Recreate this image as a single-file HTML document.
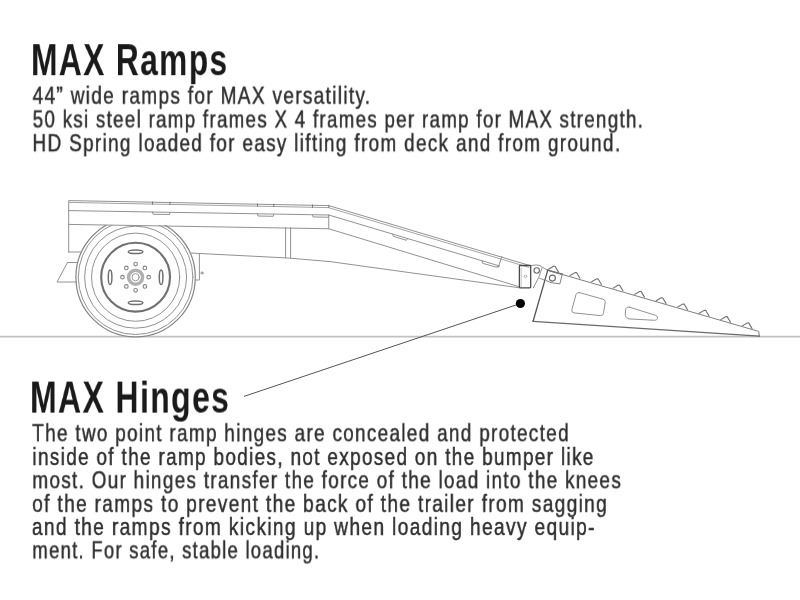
<!DOCTYPE html>
<html lang="en"><head><meta charset="utf-8"><title>MAX Ramps</title>
<style>
html,body{margin:0;padding:0;background:#fff;}
body{width:800px;height:600px;position:relative;overflow:hidden;font-family:"Liberation Sans",sans-serif;}
.t{position:absolute;white-space:nowrap;transform-origin:0 0;line-height:1;margin:0;padding:0;will-change:transform;}
.h{font-size:44.8px;font-weight:700;color:#1a1a1a;letter-spacing:0.045em;}
.b{font-size:24.8px;font-weight:400;color:#303030;letter-spacing:0.07em;-webkit-text-stroke:0.5px #303030;}
</style></head><body>
<svg width="800" height="600" viewBox="0 0 800 600" style="position:absolute;left:0;top:0">
<defs><clipPath id="wc"><rect x="60" y="224.9" width="150" height="130"/></clipPath></defs>
<line x1="0" y1="336.6" x2="800" y2="336.6" stroke="#c2c2c2" stroke-width="1.9"/>
<g fill="none" stroke="#929292" stroke-width="1" stroke-linecap="round" stroke-linejoin="round">
<g clip-path="url(#wc)">
<circle cx="135.6" cy="277.2" r="59.7" fill="#fff" stroke="#858585" stroke-width="1.2"/>
<circle cx="135.6" cy="277.2" r="57.3"/>
<circle cx="135.6" cy="277.2" r="51.0"/>
<circle cx="135.6" cy="277.2" r="44.1"/>
</g>
<circle cx="135.6" cy="277.2" r="34.4" stroke="#707070" stroke-width="2.1"/>
<circle cx="135.6" cy="277.2" r="7" stroke="#b0b0b0" stroke-width="3.4"/>
<circle cx="135.6" cy="277.2" r="3.6" stroke="#999"/>
<circle cx="148.70" cy="277.20" r="1.8" stroke="#858585" stroke-width="1.1"/>
<circle cx="144.86" cy="286.46" r="1.8" stroke="#858585" stroke-width="1.1"/>
<circle cx="135.60" cy="290.30" r="1.8" stroke="#858585" stroke-width="1.1"/>
<circle cx="126.34" cy="286.46" r="1.8" stroke="#858585" stroke-width="1.1"/>
<circle cx="122.50" cy="277.20" r="1.8" stroke="#858585" stroke-width="1.1"/>
<circle cx="126.34" cy="267.94" r="1.8" stroke="#858585" stroke-width="1.1"/>
<circle cx="135.60" cy="264.10" r="1.8" stroke="#858585" stroke-width="1.1"/>
<circle cx="144.86" cy="267.94" r="1.8" stroke="#858585" stroke-width="1.1"/>
<ellipse cx="135.6" cy="251.7" rx="7.3" ry="1.8" stroke="#707070" stroke-width="1.5" transform="rotate(0 135.6 277.2)"/>
<ellipse cx="135.6" cy="251.7" rx="7.3" ry="1.8" stroke="#707070" stroke-width="1.5" transform="rotate(90 135.6 277.2)"/>
<ellipse cx="135.6" cy="251.7" rx="7.3" ry="1.8" stroke="#707070" stroke-width="1.5" transform="rotate(180 135.6 277.2)"/>
<ellipse cx="135.6" cy="251.7" rx="7.3" ry="1.8" stroke="#707070" stroke-width="1.5" transform="rotate(270 135.6 277.2)"/>
<path d="M68.7 252 L68.7 200.6 L328.75 205.6 L530 265.6"/>
<path d="M68.7 202.4 L328.4 207.6 L529 267.4" stroke="#a4a4a4"/>
<path d="M68.7 210.6 L328.75 215 L499.6 266"/>
<path d="M68.7 224.4 L328.75 228.75 L520 287"/>
<path d="M328.75 215 L328.75 228.75"/>
<path d="M68.7 252 L81.5 252"/>
<path d="M67.5 262.5 L77.5 262.5 M76.5 282 L57 282 L67.5 262.5"/>
<path d="M190 253 L288 258 L330 261.6 L519.4 287.8"/>
<path d="M285.6 227.7 L285.6 257.9 M290.6 227.8 L290.6 258.1"/>
<path d="M199.4 253.5 L199.4 280 L195 280"/>
<circle cx="202" cy="273" r="1.1"/>
<path d="M152.5 201.91 L152.5 204.21 M170 202.21 L170 204.51" stroke="#777"/>
<path d="M152.5 212.02 L153.0 214.22 L169.5 214.52 L170 212.32"/>
<path d="M257.5 203.92 L257.5 206.22 M273.75 204.22 L273.75 206.52" stroke="#777"/>
<path d="M257.5 213.81 L258.0 216.01 L273.25 216.31 L273.75 214.11"/>
<path d="M312.5 204.98 L312.5 207.28 M328.75 205.28 L328.75 207.58" stroke="#777"/>
<path d="M312.5 214.74 L313.0 216.94 L328.25 217.24 L328.75 215.04"/>
<path d="M392.5 234.2 L393.5 236.4 L406.5 240.3 L407.5 238.6"/>
<path d="M482 261 L482.6 263.3 L497 267.4 L498 265.4"/>
<path d="M501.8 256.6 L498.4 267.2"/>
<path d="M530.8 265.6 L536.5 264.9 Q540.6 265.2 542.4 267.2 L547.5 270.1 M542.2 267.6 L538.6 277.6 L533.3 287.9 M539.4 278.2 L544.6 280.2"/>
<path d="M562.3 274.3 L559.8 283.9 L551 282.6 L546.2 280.6" stroke="#808080"/>
<path d="M547.4 270.1 L562.4 274.2" stroke="#555" stroke-width="1.4"/>
<circle cx="536.7" cy="270.5" r="2.7" stroke="#6a6a6a" stroke-width="1.1"/>
<circle cx="552.4" cy="278.1" r="3.0" stroke="#6a6a6a" stroke-width="1.1"/>
<rect x="519.4" y="265.5" width="11.3" height="22.3" rx="0.8" stroke="#4a4a4a" stroke-width="1.3"/>
<path d="M521.2 268 L521.2 286.5" stroke="#c4c4c4"/>
<circle cx="525.4" cy="276.4" r="1.3" stroke="#b0b0b0"/>
<path d="M547.5 270.2 L758.7 331.4 L759.4 336.2" stroke="#808080"/>
<path d="M759.4 336.2 L533.1 321.3" stroke="#6a6a6a" stroke-width="1.35"/>
<path d="M547.7 270.4 L533.1 321.3" stroke="#555" stroke-width="1.3"/>
<path d="M548.60 269.20 L553.50 266.30 L555.00 266.20 L558.40 271.90" stroke="#707070" stroke-width="1.1"/>
<path d="M570.12 275.50 L575.02 272.60 L576.52 272.50 L579.92 278.20" stroke="#707070" stroke-width="1.1"/>
<path d="M591.64 281.80 L596.54 278.90 L598.04 278.80 L601.44 284.50" stroke="#707070" stroke-width="1.1"/>
<path d="M613.16 288.10 L618.06 285.20 L619.56 285.10 L622.96 290.80" stroke="#707070" stroke-width="1.1"/>
<path d="M634.68 294.40 L639.58 291.50 L641.08 291.40 L644.48 297.10" stroke="#707070" stroke-width="1.1"/>
<path d="M656.20 300.70 L661.10 297.80 L662.60 297.70 L666.00 303.40" stroke="#707070" stroke-width="1.1"/>
<path d="M677.72 307.00 L682.62 304.10 L684.12 304.00 L687.52 309.70" stroke="#707070" stroke-width="1.1"/>
<path d="M699.24 313.30 L704.14 310.40 L705.64 310.30 L709.04 316.00" stroke="#707070" stroke-width="1.1"/>
<path d="M720.76 319.60 L725.66 316.70 L727.16 316.60 L730.56 322.30" stroke="#707070" stroke-width="1.1"/>
<path d="M742.28 325.90 L747.18 323.00 L748.68 322.90 L752.08 328.60" stroke="#707070" stroke-width="1.1"/>
<path d="M579.5 292.6 L603 299.2 Q605.6 300 605.2 302.6 L603.4 313.4 Q602.8 315.9 600.2 315.6 L574 312.9 Q571.2 312.4 571.9 309.7 L576 294.4 Q576.8 291.9 579.5 292.6 Z"/>
<path d="M629.5 307.2 L655.5 315.3 Q658 316.4 657.6 318.3 Q657 320.4 654.6 320.3 L629 318.9 Q625.4 318.3 625.2 315 L625.6 310 Q626.2 306.4 629.5 307.2 Z"/>
</g>
<line x1="244" y1="396.4" x2="520.4" y2="303.5" stroke="#555" stroke-width="1"/>
<circle cx="520.4" cy="303.5" r="4.6" fill="#050505"/>
</svg>
<h1 class="t h" id="t0" style="left:31px;top:37px;transform:translate(0.14px,0.17px) scaleX(0.7063)">MAX Ramps</h1>
<p class="t b" id="t1" style="left:32px;top:83px;transform:translate(0.60px,0.70px) scaleX(0.7668)">44” wide ramps for MAX versatility.</p>
<p class="t b" id="t2" style="left:32px;top:107px;transform:translate(0.71px,0.45px) scaleX(0.7545)">50 ksi steel ramp frames X 4 frames per ramp for MAX strength.</p>
<p class="t b" id="t3" style="left:32px;top:131px;transform:translate(0.46px,0.20px) scaleX(0.7636)">HD Spring loaded for easy lifting from deck and from ground.</p>
<h1 class="t h" id="t4" style="left:30px;top:374px;transform:translate(0.11px,0.57px) scaleX(0.7111)">MAX Hinges</h1>
<p class="t b" id="t5" style="left:32px;top:421px;transform:translate(0.21px,0.20px) scaleX(0.7622)">The two point ramp hinges are concealed and protected</p>
<p class="t b" id="t6" style="left:32px;top:444px;transform:translate(0.42px,0.95px) scaleX(0.7641)">inside of the ramp bodies, not exposed on the bumper like</p>
<p class="t b" id="t7" style="left:32px;top:468px;transform:translate(0.37px,0.25px) scaleX(0.7611)">most. Our hinges transfer the force of the load into the knees</p>
<p class="t b" id="t8" style="left:32px;top:491px;transform:translate(0.17px,0.85px) scaleX(0.7701)">of the ramps to prevent the back of the trailer from sagging</p>
<p class="t b" id="t9" style="left:31px;top:514px;transform:translate(0.90px,0.95px) scaleX(0.7730)">and the ramps from kicking up when loading heavy equip-</p>
<p class="t b" id="t10" style="left:32px;top:538px;transform:translate(0.41px,0.35px) scaleX(0.7431)">ment. For safe, stable loading.</p>
</body></html>
